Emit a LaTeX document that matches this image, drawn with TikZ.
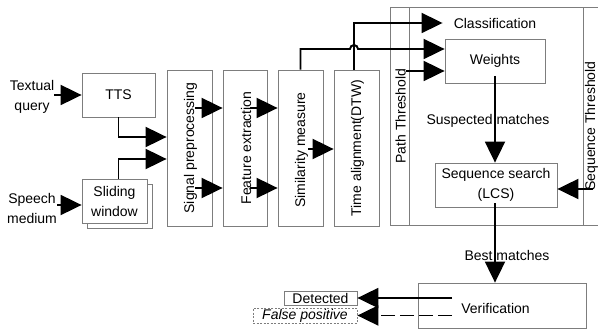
\documentclass[tikz,border=0pt]{standalone}
\usepackage{fontspec}
\setmainfont{Liberation Sans}
\usetikzlibrary{arrows.meta,calc}
\definecolor{boxgray}{RGB}{125,125,125}
\begin{document}
\begin{tikzpicture}[x=1pt,y=-1pt,
  font=\fontsize{14pt}{20pt}\selectfont,
  box/.style={draw=boxgray, line width=0.8pt, fill=white, inner sep=0pt},
  frm/.style={draw=boxgray, line width=0.8pt, inner sep=0pt, anchor=north west},
  conn/.style={line width=1.9pt, -{Triangle[length=21pt,width=20pt]}},
  lbl/.style={inner sep=0pt, align=center}
]
\useasboundingbox[fill=white] (0,0) rectangle (598,329);

% left inputs
\node[box, minimum width=73pt, minimum height=44pt] (tts) at (118.5,95) {TTS};
\node[box, minimum width=65pt, minimum height=44pt] (slideback) at (119.5,206) {};
\node[box, minimum width=65pt, minimum height=44pt, lbl] (slide) at (114.5,201) {Sliding\\window};
\node[lbl] (tq) at (32,96.5) {Textual\\query};
\node[lbl] (sm) at (32,208.5) {Speech\\medium};

% processing stages
\node[box, minimum width=45pt, minimum height=156pt] (sig) at (189.5,148) {};
\node[box, minimum width=44pt, minimum height=156pt] (feat) at (245,148) {};
\node[box, minimum width=45pt, minimum height=156pt] (sim) at (300.5,148) {};
\node[box, minimum width=45pt, minimum height=156pt] (time) at (356.5,148) {};
\node[lbl, rotate=90] (sigtxt) at (190.5,148) {Signal preprocessing};
\node[lbl, rotate=90] (feattxt) at (246,148) {Feature extraction};
\node[lbl, rotate=90] (simtxt) at (301.5,150) {Similarity measure};
\node[lbl, rotate=90] (timetxt) at (357.5,148) {Time alignment(DTW)};

% right frame
\node[frm, minimum width=230pt, minimum height=218pt] (frame) at (390,7) {};
\node[frm, minimum width=18.5pt, minimum height=218pt] (pathcol) at (390,7) {};
\node[frm, minimum width=32pt, minimum height=218pt] (seqcol) at (583,7) {};
\node[lbl, rotate=90] (pathtxt) at (400.5,116) {Path Threshold};
\node[lbl, rotate=90] (seqtxt) at (591.5,126) {Sequence Threshold};

\node[inner xsep=11pt, inner ysep=0pt] (cls) at (495,23) {Classification};
\node[box, minimum width=100pt, minimum height=44pt] (wts) at (495,61) {Weights};
\node[box, minimum width=122pt, minimum height=44pt, lbl] (seq) at (496,185) {Sequence search\\(LCS)};
\node[lbl] (susp) at (488,121) {Suspected matches};
\node[lbl] (best) at (507,255) {Best matches};

% verification
\node[box, minimum width=168pt, minimum height=45pt] (ver) at (502,305.5) {};
\node[lbl] (vertxt) at (495.5,308) {Verification};
\node[box, minimum width=73pt, minimum height=14pt] (det) at (320.5,298) {Detected};
\node[box, dash pattern=on 2pt off 1.5pt, minimum width=104pt, minimum height=15pt] (fp) at (305,315.5) {\itshape False positive};

% free ends
\coordinate (pt) at (406,71);
\coordinate (st) at (593,189);
\coordinate (hopL) at (350,49);
\coordinate (vs1) at (452,298);
\coordinate (vs2) at (452,315.5);

% connectors
\draw[conn] (tq.east |- tts.west) -- (tts.west);
\draw[conn] ([yshift=-4pt]sm.east |- slide.west) -- ([yshift=-4pt]slide.west);
\draw[conn] (tts.south) |- ([yshift=11pt]sig.west);
\draw[conn] (tts.south |- slide.north) |- ([yshift=-11pt]sig.west);

\draw[conn] ([xshift=5.5pt,yshift=40pt]sig.center) -- ([yshift=40pt]feat.west);
\draw[conn] ([xshift=5.5pt,yshift=-40pt]sig.center) -- ([yshift=-40pt]feat.west);
\draw[conn] ([xshift=5pt,yshift=40pt]feat.center) -- ([yshift=40pt]sim.west);
\draw[conn] ([xshift=5pt,yshift=-40pt]feat.center) -- ([yshift=-40pt]sim.west);
\draw[conn] ([xshift=7.5pt,yshift=-1pt]sim.center) -- ([yshift=-1pt]time.west);

\draw[conn] ([xshift=-2.5pt]time.north) |- (cls.west);
\draw[conn] (sim.north) |- (hopL) arc[start angle=180, end angle=360, radius=4] -- ([yshift=12pt]wts.west);
\draw[conn] (pt) -- ([yshift=-10pt]wts.west);

\draw[conn] ([yshift=-15pt]wts.center) -- (wts.center |- seq.north);
\draw[conn] (st) -- (seq.east |- st);
\draw[conn] ([yshift=-18pt,xshift=-1pt]seq.center) -- ([xshift=-1pt]seq.center |- ver.north);

\draw[conn] (vs1) -- (det.east);
\draw[conn, dash pattern=on 14pt off 5pt] (vs2) -- (fp.east);
\end{tikzpicture}
\end{document}
